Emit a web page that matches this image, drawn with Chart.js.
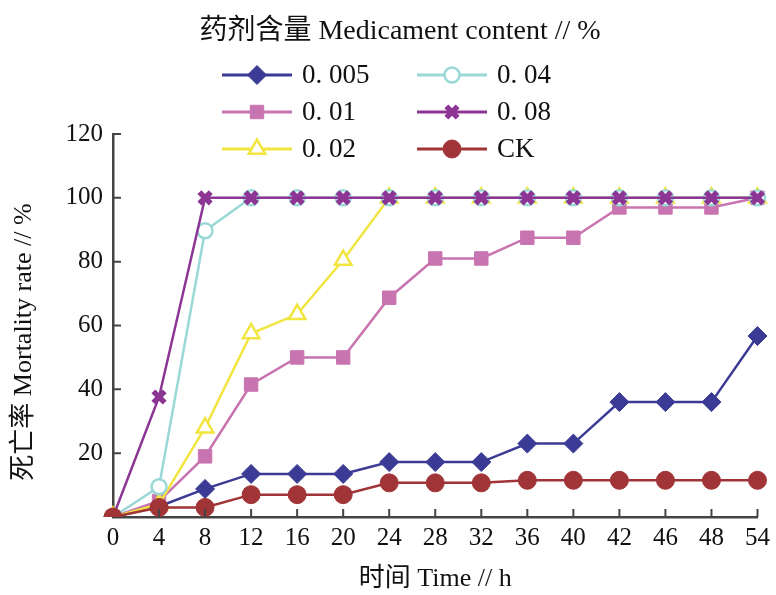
<!DOCTYPE html>
<html>
<head>
<meta charset="utf-8">
<script src="https://cdn.jsdelivr.net/npm/chart.js@4/dist/chart.umd.min.js"></script>
<style>
  html, body { margin: 0; padding: 0; background: #fff; }
  #wrap { width: 776px; height: 595px; }
</style>
</head>
<body>
<div id="wrap"><canvas id="myChart" width="776" height="595"></canvas></div>
<script>
// hours on x axis (equally spaced categories in the original)
var hours = ['0', '4', '8', '12', '16', '20', '24', '28', '32', '36', '40', '42', '46', '48', '54'];
var yTicks = [20, 40, 60, 80, 100, 120];

// mortality rate (%) for each medicament content
var s0005 = [0, 3.3, 8.8, 13.5, 13.5, 13.5, 17.2, 17.2, 17.2, 23, 23, 36, 36, 36, 56.7];
var s001  = [0, 5, 19, 41.5, 50, 50, 68.7, 81, 81, 87.5, 87.5, 97, 97, 97, 100];
var s002  = [0, 4, 28, 57.5, 63.5, 80.5, 100, 100, 100, 100, 100, 100, 100, 100, 100];
var s004  = [0, 9.5, 89.7, 100, 100, 100, 100, 100, 100, 100, 100, 100, 100, 100, 100];
var s008  = [0, 37.6, 100, 100, 100, 100, 100, 100, 100, 100, 100, 100, 100, 100, 100];
var sCK   = [0, 3, 3, 7, 7, 7, 10.7, 10.7, 10.7, 11.5, 11.5, 11.5, 11.5, 11.5, 11.5];

var FONT = '"Liberation Serif", "Noto Sans CJK SC", serif';

function series(label, data, color, style, radius, fill, bw, order) {
    return {
        label: label,
        data: data,
        borderColor: color,
        borderWidth: 2.5,
        pointStyle: style,
        pointRadius: radius,
        pointHoverRadius: radius,
        pointBackgroundColor: fill,
        pointBorderColor: color,
        pointBorderWidth: bw,
        tension: 0,
        order: order
    };
}

var datasets = [
    series('0. 005', s0005, '#3b3b96', 'rectRot', 9.5, '#3b3b96', 1, 4),
    series('0. 01', s001, '#c874b0', 'rect', 9.5, '#c874b0', 1, 5),
    series('0. 02', s002, '#f2e540', 'triangle', 9.5, '#ffffff', 2.5, 3),
    series('0. 04', s004, '#9ad8d6', 'circle', 7.5, '#ffffff', 2.5, 2),
    series('0. 08', s008, '#8c3594', 'crossRot', 8, '#8c3594', 5.5, 1),
    series('CK', sCK, '#a03437', 'circle', 9, '#a03437', 1, 0)
];

// legend in two columns like the original
var legendSlots = [
    { i: 0, x: 222, y: 75 }, { i: 3, x: 417, y: 75 },
    { i: 1, x: 222, y: 112 }, { i: 4, x: 417, y: 112 },
    { i: 2, x: 222, y: 149 }, { i: 5, x: 417, y: 149 }
];

var plugin = {
    id: 'extras',
    afterDraw: function (chart) {
        var ctx = chart.ctx;
        var xs = chart.scales.x, ys = chart.scales.y;
        ctx.save();
        // inward ticks
        ctx.strokeStyle = '#444';
        ctx.lineWidth = 2;
        ctx.beginPath();
        for (var k = 1; k < hours.length; k++) {
            var px = xs.getPixelForValue(k);
            ctx.moveTo(px, chart.chartArea.bottom);
            ctx.lineTo(px, chart.chartArea.bottom - 8);
        }
        for (var t = 0; t < yTicks.length; t++) {
            var py = ys.getPixelForValue(yTicks[t]);
            ctx.moveTo(chart.chartArea.left, py);
            ctx.lineTo(chart.chartArea.left + 8, py);
        }
        ctx.stroke();

        // y axis title (sits a bit below the middle in the original)
        ctx.fillStyle = '#111';
        ctx.font = '26px ' + FONT;
        ctx.textAlign = 'center';
        ctx.textBaseline = 'middle';
        ctx.save();
        ctx.translate(24, 342);
        ctx.rotate(-Math.PI / 2);
        ctx.fillText('死亡率 Mortality rate // %', 0, 0);
        ctx.restore();

        // legend title
        ctx.font = '28px ' + FONT;
        ctx.fillText('药剂含量 Medicament content // %', 400, 32);

        // legend items
        ctx.font = '27px ' + FONT;
        ctx.textAlign = 'left';
        legendSlots.forEach(function (s) {
            var ds = chart.data.datasets[s.i];
            ctx.strokeStyle = ds.borderColor;
            ctx.lineWidth = 3;
            ctx.beginPath();
            ctx.moveTo(s.x, s.y);
            ctx.lineTo(s.x + 70, s.y);
            ctx.stroke();
            ctx.fillStyle = ds.pointBackgroundColor;
            ctx.lineWidth = ds.pointBorderWidth;
            if (Chart.helpers && Chart.helpers.drawPoint) {
                Chart.helpers.drawPoint(ctx, {
                    pointStyle: ds.pointStyle,
                    radius: ds.pointRadius,
                    rotation: 0,
                    borderWidth: ds.pointBorderWidth
                }, s.x + 35, s.y);
            }
            ctx.fillStyle = '#111';
            ctx.fillText(ds.label, s.x + 80, s.y + 1);
        });
        ctx.restore();
    }
};

var ctx = document.getElementById('myChart');
var myChart = new Chart(ctx, {
    type: 'line',
    data: {
        labels: hours,
        datasets: datasets
    },
    options: {
        responsive: false,
        animation: false,
        devicePixelRatio: 1,
        layout: { padding: { top: 134, right: 16, left: 0, bottom: 0 } },
        plugins: {
            legend: { display: false },
            tooltip: { enabled: false }
        },
        scales: {
            x: {
                type: 'category',
                offset: false,
                grid: { display: false, drawTicks: false },
                border: { color: '#444', width: 2.5 },
                ticks: {
                    color: '#111',
                    font: { family: FONT, size: 25 },
                    padding: 6,
                    maxRotation: 0,
                    autoSkip: false
                },
                title: {
                    display: true,
                    text: '时间 Time // h',
                    color: '#111',
                    font: { family: FONT, size: 26 },
                    padding: { top: 8, bottom: 0 }
                },
                afterFit: function (s) { s.height = 78; }
            },
            y: {
                min: 0,
                max: 120,
                grid: { display: false, drawTicks: false },
                border: { color: '#444', width: 2.5 },
                ticks: {
                    stepSize: 20,
                    color: '#111',
                    font: { family: FONT, size: 25 },
                    padding: 10,
                    callback: function (v) { return v === 0 ? '' : v; }
                },
                afterFit: function (s) { s.width = 113; }
            }
        }
    },
    plugins: [plugin]
});
</script>
</body>
</html>
